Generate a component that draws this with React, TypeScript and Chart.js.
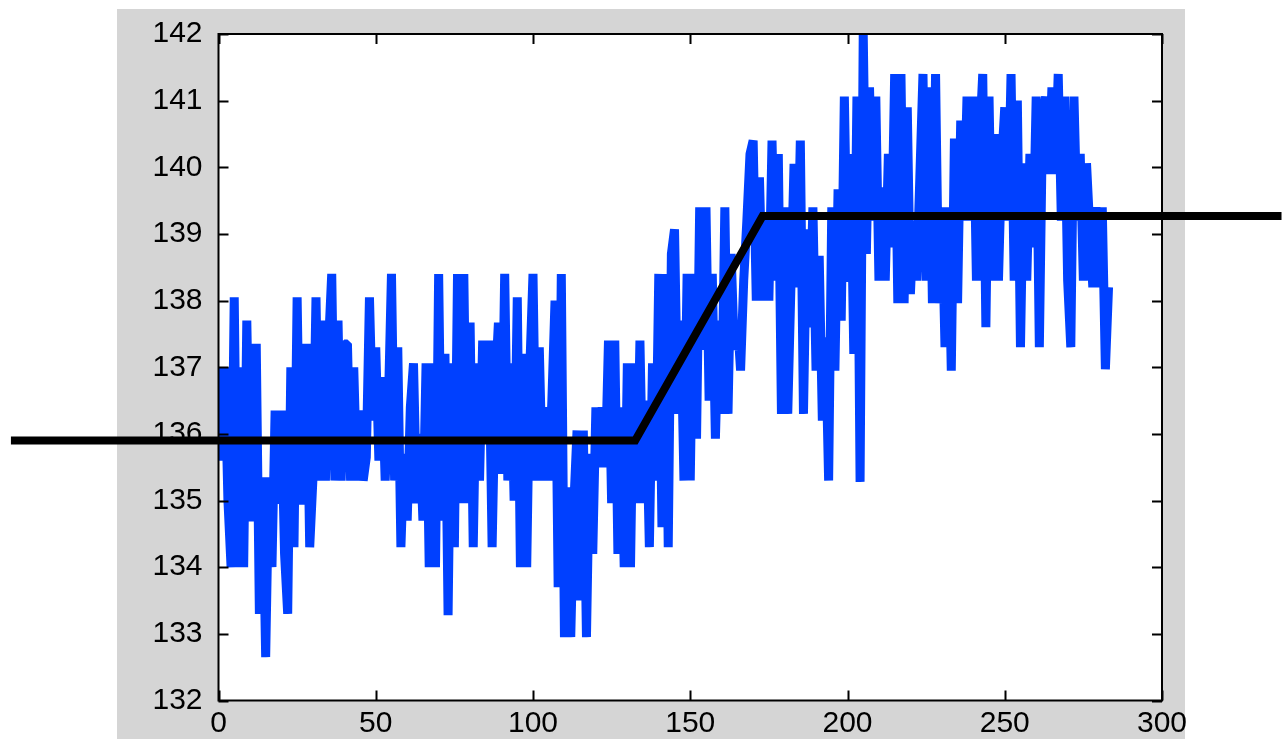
import { useEffect, useRef } from "react";
import { Chart, registerables } from "chart.js";

Chart.register(...registerables);

// Measured series (one reading per sample index 0..283)
const readings: number[] = [
  137.0, 135.6, 137.0, 135.0, 134.0, 138.05, 134.0, 137.0, 134.0, 137.7,
  134.95, 134.7, 137.35, 133.3, 135.35, 132.65, 135.35, 134.0, 136.35, 134.95,
  136.35, 134.2, 133.3, 137.0, 134.3, 138.05, 134.95, 135.2, 137.35, 134.3,
  135.3, 138.05, 135.3, 137.7, 135.3, 137.35, 138.4, 135.3, 137.7, 135.3,
  137.35, 137.35, 135.3, 137.0, 135.3, 136.35, 135.3, 135.65, 138.05, 136.2,
  137.3, 135.6, 136.85, 135.3, 136.4, 138.4, 135.3, 137.3, 134.3, 135.7,
  134.7, 136.4, 137.06, 134.96, 136.0, 134.7, 137.06, 134.0, 137.06, 134.0,
  138.4, 134.7, 137.2, 133.28, 137.06, 134.3, 138.4, 134.96, 138.4, 134.96,
  137.67, 134.3, 137.06, 135.3, 137.4, 135.95, 137.4, 134.3, 136.7, 137.67,
  135.4, 138.4, 135.3, 137.06, 135.0, 138.05, 134.0, 137.2, 134.0, 137.0,
  138.4, 135.3, 137.3, 135.3, 136.4, 135.3, 136.5, 138.0, 133.7, 138.4,
  132.95, 135.2, 132.95, 134.95, 136.05, 133.5, 136.05, 132.95, 135.7, 134.2,
  136.4, 135.5, 136.4, 135.5, 137.4, 134.96, 137.4, 134.2, 136.4, 134.0,
  137.06, 134.0, 137.06, 134.96, 137.4, 134.96, 136.5, 134.3, 137.06, 135.3,
  138.4, 134.6, 138.4, 134.3, 138.7, 139.07, 136.3, 137.7, 135.3, 138.4,
  135.3, 138.4, 135.93, 139.4, 137.26, 139.4, 136.5, 138.4, 135.93, 137.7,
  136.3, 139.4, 136.3, 138.7, 137.26, 137.7, 136.95, 138.3, 139.2, 140.2,
  140.4, 138.0, 139.85, 138.0, 139.26, 138.0, 140.4, 138.3, 140.2, 136.3,
  139.4, 136.3, 138.2, 140.05, 138.2, 140.4, 136.3, 139.07, 137.6, 139.4,
  136.95, 138.67, 136.2, 137.45, 135.3, 139.4, 136.95, 139.67, 137.7, 141.06,
  138.28, 140.2, 137.2, 141.06, 135.28, 142.0, 138.7, 141.2, 139.2, 141.06,
  138.3, 139.7, 138.3, 140.2, 138.8, 141.4, 137.96, 141.4, 137.96, 140.9,
  138.1, 139.2, 138.3, 139.85, 141.4, 138.3, 141.2, 137.96, 141.4, 137.96,
  139.4, 137.3, 139.4, 136.95, 140.43, 137.96, 140.7, 139.2, 141.06, 139.2,
  141.06, 138.3, 140.4, 141.4, 137.6, 141.06, 138.3, 140.5, 138.3, 140.06,
  140.9, 139.2, 141.4, 138.3, 141.0, 137.3, 140.06, 138.3, 140.2, 138.8,
  141.06, 137.3, 140.7, 141.06, 139.9, 141.2, 139.9, 141.4, 139.2, 141.06,
  138.3, 137.3, 141.06, 139.2, 140.2, 138.3, 140.06, 139.1, 138.2, 139.4,
  138.2, 139.4, 136.97, 138.2,
];

// Piecewise step-change fit (black line), extends beyond the axes
const trendX: number[] = [-66, 132.5, 173, 338];
const trendY: number[] = [135.9, 135.9, 139.27, 139.27];

const xTicks: number[] = [0, 50, 100, 150, 200, 250, 300];
const yTicks: number[] = [132, 133, 134, 135, 136, 137, 138, 139, 140, 141, 142];

const FIG_BG = "#d5d5d5";
const FONT = "'Liberation Sans', Arial, Helvetica, sans-serif";

const framePlugin = {
  id: "matlabFrame",
  beforeDraw(chart: any) {
    const { ctx, chartArea: a } = chart;
    ctx.save();
    ctx.fillStyle = "#ffffff";
    ctx.fillRect(0, 0, chart.width, chart.height);
    const gl = a.left - 101.5;
    const gt = a.top - 25;
    const gr = a.right + 23;
    ctx.fillStyle = FIG_BG;
    ctx.fillRect(gl, gt, gr - gl, chart.height - gt);
    ctx.fillStyle = "#ffffff";
    ctx.fillRect(a.left, a.top, a.right - a.left, a.bottom - a.top);
    ctx.restore();
  },
  afterDatasetsDraw(chart: any) {
    const { ctx, chartArea: a } = chart;
    const xs = chart.scales.x;
    const ys = chart.scales.y;
    const len = 10;
    ctx.save();
    ctx.strokeStyle = "#000";
    ctx.lineWidth = 2;
    ctx.strokeRect(a.left, a.top, a.right - a.left, a.bottom - a.top);
    ctx.beginPath();
    for (const v of xTicks) {
      const px = Math.round(xs.getPixelForValue(v)) + 0.5;
      ctx.moveTo(px, a.bottom);
      ctx.lineTo(px, a.bottom - len);
      ctx.moveTo(px, a.top);
      ctx.lineTo(px, a.top + len);
    }
    for (const v of yTicks) {
      const py = Math.round(ys.getPixelForValue(v)) + 0.5;
      ctx.moveTo(a.left, py);
      ctx.lineTo(a.left + len, py);
      ctx.moveTo(a.right, py);
      ctx.lineTo(a.right - len, py);
    }
    ctx.stroke();
    ctx.restore();
  },
};

export default function App() {
  const canvasRef = useRef<HTMLCanvasElement | null>(null);

  useEffect(() => {
    const canvas = canvasRef.current;
    if (!canvas) return;
    const chart = new Chart(canvas, {
      type: "line",
      data: {
        datasets: [
          {
            label: "fit",
            data: trendX.map((x, i) => ({ x, y: trendY[i] })),
            borderColor: "#000000",
            borderWidth: 8,
            pointRadius: 0,
            tension: 0,
            clip: false as any,
            borderJoinStyle: "miter",
          },
          {
            label: "readings",
            data: readings.map((y, i) => ({ x: i, y })),
            borderColor: "#0040ff",
            borderWidth: 9,
            pointRadius: 0,
            tension: 0,
            clip: 0 as any,
            borderJoinStyle: "bevel",
          },
        ],
      },
      options: {
        responsive: false,
        maintainAspectRatio: false,
        animation: false,
        events: [],
        layout: { padding: { left: 0, right: 120, top: 33, bottom: 0 } },
        plugins: {
          legend: { display: false },
          tooltip: { enabled: false },
          title: { display: false },
        },
        scales: {
          x: {
            type: "linear",
            min: 0,
            max: 300,
            afterBuildTicks: (s: any) => {
              s.ticks = xTicks.map((value) => ({ value }));
            },
            afterFit: (s: any) => {
              s.height = 38.5;
            },
            ticks: {
              font: { family: FONT, size: 30 },
              color: "#000",
              padding: 5,
              maxRotation: 0,
              autoSkip: false,
            },
            grid: { display: false, drawTicks: false },
            border: { display: false },
          },
          y: {
            type: "linear",
            min: 132,
            max: 142,
            afterBuildTicks: (s: any) => {
              s.ticks = yTicks.map((value) => ({ value }));
            },
            afterFit: (s: any) => {
              s.width = 218.5;
            },
            ticks: {
              font: { family: FONT, size: 30 },
              color: "#000",
              padding: 16,
              autoSkip: false,
            },
            grid: { display: false, drawTicks: false },
            border: { display: false },
          },
        },
      },
      plugins: [framePlugin],
    });
    return () => chart.destroy();
  }, []);

  return (
    <div style={{ position: "fixed", left: 0, top: 0, width: 1282, height: 739, background: "#fff" }}>
      <canvas ref={canvasRef} width={1282} height={739} style={{ width: 1282, height: 739, display: "block" }} />
    </div>
  );
}
